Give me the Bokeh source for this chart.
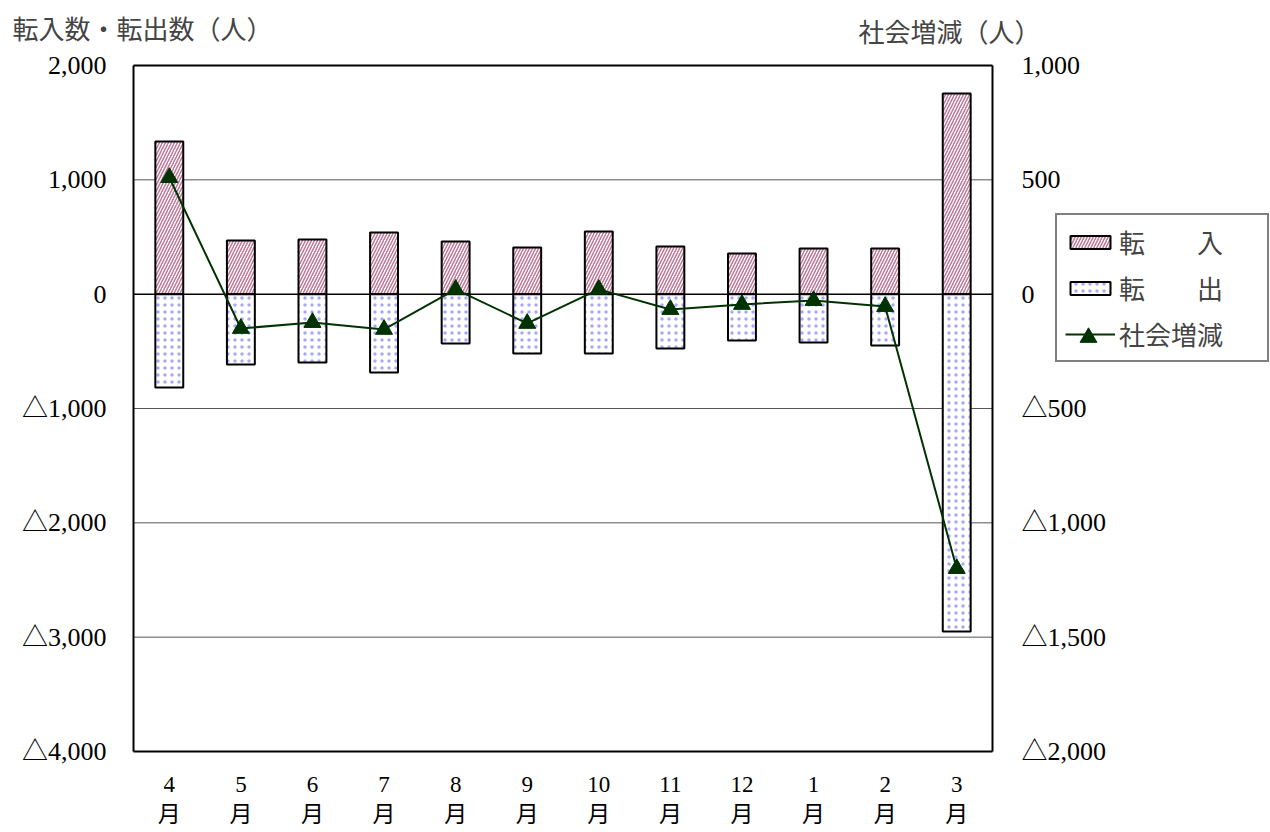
from bokeh.plotting import figure
from bokeh.models import (Range1d, LinearAxis, FixedTicker, Legend, LegendItem, Label,
                          ColumnDataSource)
from bokeh.embed import file_html
from bokeh.resources import INLINE

months = ["4", "5", "6", "7", "8", "9", "10", "11", "12", "1", "2", "3"]
tennyu = [1336, 470, 478, 540, 461, 408, 548, 417, 356, 400, 400, 1756]
tenshutsu = [816, 615, 597, 685, 431, 519, 519, 475, 405, 422, 449, 2951]
shakai = [510, -150, -124, -154, 21, -128, 21, -67, -45, -28, -54, -1200]

left_ticks = [2000, 1000, 0, -1000, -2000, -3000, -4000]
left_labels = ["2,000", "1,000", "0", "△1,000", "△2,000", "△3,000", "△4,000"]
right_ticks = [1000, 500, 0, -500, -1000, -1500, -2000]
right_labels = ["1,000", "500", "0", "△500", "△1,000", "△1,500", "△2,000"]
left_title = "転入数・転出数（人）"
right_title = "社会増減（人）"

FONT = "'Liberation Serif', 'Noto Sans CJK JP'"
FS = "26px"

# page / plot-area geometry in pixels
W, H = 1270, 832
PL, PR, PT, PB = 133, 992, 65, 751

n = len(months)
xs = list(range(1, n + 1))
x_lo, x_hi = 0.5, n + 0.5
yl_lo, yl_hi = min(left_ticks), max(left_ticks)
yr_lo, yr_hi = min(right_ticks), max(right_ticks)


def extend(lo, hi, p_lo, p_hi, total, flip=False):
    per = (hi - lo) / (p_hi - p_lo)
    if flip:  # screen y grows downward
        return lo - (total - p_hi) * per, hi + p_lo * per
    return lo - p_lo * per, hi + (total - p_hi) * per


xr = extend(x_lo, x_hi, PL, PR, W)
ylr = extend(yl_lo, yl_hi, PT, PB, H, flip=True)
yrr = extend(yr_lo, yr_hi, PT, PB, H, flip=True)

src = ColumnDataSource(dict(x=xs, tin=tennyu, tout=[-v for v in tenshutsu], net=shakai))

p = figure(frame_width=W, frame_height=H, min_border=0,
           x_range=Range1d(*xr), y_range=Range1d(*ylr),
           output_backend="svg", toolbar_location=None, background_fill_color="white",
           border_fill_color="white", x_axis_location=None, y_axis_location=None)
p.extra_y_ranges = {"right": Range1d(*yrr)}
p.outline_line_color = None
p.xgrid.visible = False
p.ygrid.visible = False

# grid lines (inside plot area only)
grid_vals = [t for t in left_ticks if t not in (yl_lo, yl_hi, 0)]
p.segment(x0=[x_lo] * len(grid_vals), x1=[x_hi] * len(grid_vals), y0=grid_vals,
          y1=grid_vals, line_color="#555555", line_width=1)
p.segment(x0=[x_lo], x1=[x_hi], y0=[0], y1=[0], line_color="black", line_width=1.5)

r_in = p.vbar(x="x", top="tin", bottom=0, width=0.39, source=src, fill_color="white",
              line_color="black", line_width=2, hatch_pattern="/", hatch_color="#b97a98",
              hatch_scale=6, hatch_weight=1.5)
r_out = p.vbar(x="x", top=0, bottom="tout", width=0.39, source=src, fill_color="white",
               line_color="black", line_width=2, hatch_pattern=".", hatch_color="#a8a8f4",
               hatch_scale=7, hatch_weight=1.5)
r_line = p.line(x="x", y="net", source=src, y_range_name="right", line_color="#003300",
                line_width=2)
r_mk = p.scatter(x="x", y="net", source=src, y_range_name="right", marker="triangle",
                 size=17, fill_color="#003300", line_color="#003300")

ax_l = LinearAxis(ticker=FixedTicker(ticks=left_ticks),
                  major_label_overrides=dict(zip(left_ticks, left_labels)),
                  fixed_location=x_lo, bounds=(yl_lo, yl_hi), major_label_standoff=21)
ax_r = LinearAxis(y_range_name="right", ticker=FixedTicker(ticks=right_ticks),
                  major_label_overrides=dict(zip(right_ticks, right_labels)),
                  fixed_location=x_hi, bounds=(yr_lo, yr_hi), major_label_standoff=23)
ax_b = LinearAxis(ticker=FixedTicker(ticks=xs),
                  major_label_overrides={x: m + "\n月" for x, m in zip(xs, months)},
                  fixed_location=yl_lo, bounds=(x_lo, x_hi), major_label_standoff=14)
ax_t = LinearAxis(ticker=FixedTicker(ticks=[]), fixed_location=yl_hi, bounds=(x_lo, x_hi))
p.add_layout(ax_l, "left")
p.add_layout(ax_r, "right")
p.add_layout(ax_b, "below")
p.add_layout(ax_t, "above")

for ax in [ax_l, ax_r, ax_b, ax_t]:
    ax.axis_line_color = "black"
    ax.axis_line_width = 2
    ax.major_tick_line_color = None
    ax.minor_tick_line_color = None
    ax.major_label_text_font = FONT
    ax.major_label_text_font_size = FS
    ax.major_label_text_color = "black"
ax_b.major_label_text_font_size = "23px"

LX, LTOP, PAD, GW = 1055, 219, 8, 50
legend = Legend(items=[LegendItem(label="転　　入", renderers=[r_in]),
                       LegendItem(label="転　　出", renderers=[r_out]),
                       LegendItem(label="社会増減", renderers=[r_line])],
                location=(LX, H - 362), border_line_color="black", border_line_width=2,
                background_fill_color="white", background_fill_alpha=1,
                label_text_font=FONT, label_text_font_size=FS, glyph_width=GW,
                glyph_height=16, spacing=9, padding=PAD, label_standoff=4,
                label_width=140, margin=0)
p.add_layout(legend, "center")

# larger marker for the third legend row, drawn on top of the row's line glyph
MK_H = 42
mk_legend = Legend(items=[LegendItem(label=" ", renderers=[r_mk])],
                   location=(LX + PAD, H - (337 + MK_H // 2)), border_line_color=None,
                   background_fill_alpha=0, label_text_font=FONT, label_text_font_size=FS,
                   glyph_width=GW, glyph_height=MK_H, padding=0, margin=0,
                   label_standoff=0, label_width=0)
p.add_layout(mk_legend, "center")

p.add_layout(Label(x=12, y=H - 30, x_units="screen", y_units="screen", text=left_title,
                   text_font=FONT, text_font_size=FS, text_baseline="middle",
                   text_align="left"))
p.add_layout(Label(x=858, y=H - 33, x_units="screen", y_units="screen", text=right_title,
                   text_font=FONT, text_font_size=FS, text_baseline="middle",
                   text_align="left"))

open("out.html", "w").write(file_html(p, INLINE))
